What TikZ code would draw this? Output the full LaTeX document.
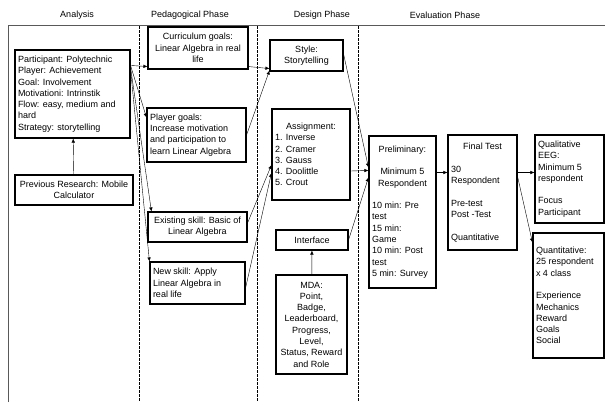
\documentclass[tikz,border=0pt]{standalone}
\usepackage{fontspec}
\setmainfont{Liberation Sans}
\usetikzlibrary{arrows.meta}

\begin{document}
\begin{tikzpicture}[x=1pt,y=-1pt,
    every node/.style={font=\fontsize{9}{11.3}\selectfont},
    box/.style={draw,line width=1.1pt,inner sep=3pt},
    lbox/.style={box,align=flush left},
    cbox/.style={box,align=center},
    >={Latex[length=4pt,width=3.5pt]}]
  \useasboundingbox (0,0) rectangle (605,402);
  % frame and phase separators
  \draw[black!65] (8,402) -- (8,25) -- (605,25);
  \begin{scope}[dash pattern=on 2.5pt off 1.5pt]
    \draw (139,26) -- (139,402);
    \draw (257,26) -- (257,402);
    \draw (358,26) -- (358,402);
  \end{scope}
  % headings
  \draw
    (77,15) node (hana){Analysis}
    (190,15) node (hped){Pedagogical Phase}
    (322,15) node (hdes){Design Phase}
    (445,15) node (heva){Evaluation Phase};
  % analysis
  \draw
    (72.5,94) node[lbox,minimum width=115,minimum height=88,text width=109] (anal){Participant: Polytechnic\\ Player: Achievement\\ Goal: Involvement\\ Motivationi: Intrinstik\\ Flow: easy, medium and\\ hard\\ Strategy: storytelling}
    (74,190) node[cbox,minimum width=118,minimum height=30] (prev){Previous Research: Mobile\\ Calculator};
  % pedagogical phase
  \draw
    (198,48) node[cbox,minimum width=100,minimum height=42] (curr){Curriculum goals:\\ Linear Algebra in real\\ life}
    (196.5,135) node[lbox,minimum width=99,minimum height=54,text width=93] (play){Player goals:\\ Increase motivation\\ and participation to\\ learn Linear Algebra}
    (197.5,227) node[cbox,minimum width=99,minimum height=30] (exist){Existing skill: Basic of\\ Linear Algebra}
    (197.5,283) node[lbox,minimum width=95,minimum height=42,text width=89] (newsk){New skill: Apply\\ Linear Algebra in\\ real life};
  % design phase
  \draw
    (306.5,55.5) node[cbox,minimum width=73,minimum height=31] (style){Style:\\ Storytelling}
    (311,154.5) node[lbox,minimum width=78,minimum height=91,text width=72] (assign){\makebox[72pt]{Assignment:}\\ 1. Inverse\\ 2. Cramer\\ 3. Gauss\\ 4. Doolittle\\ 5. Crout}
    (312,240) node[cbox,minimum width=72,minimum height=20] (inter){Interface}
    (311.5,324.5) node[cbox,minimum width=71,minimum height=99] (mda){MDA:\\ Point,\\ Badge,\\ Leaderboard,\\ Progress,\\ Level,\\ Status, Reward\\ and Role};
  % evaluation phase
  \draw
    (402.5,212) node[lbox,minimum width=67,minimum height=152,text width=61] (prelim){\makebox[61pt]{Preliminary:}\\[11.3pt] \makebox[61pt]{Minimum 5}\\ \makebox[61pt]{Respondent}\\[11.3pt] 10 min: Pre\\ test\\ 15 min:\\ Game\\ 10 min: Post\\ test\\ 5 min: Survey}
    (482.5,192.5) node[lbox,minimum width=69,minimum height=115,text width=63] (final){\makebox[63pt]{Final Test}\\[11.3pt] 30\\ Respondent\\[11.3pt] Pre-test\\ Post -Test\\[11.3pt] Quantitative}
    (569.5,179) node[lbox,minimum width=69,minimum height=88,text width=63] (qual){Qualitative\\ EEG:\\ Minimum 5\\ respondent\\[11.3pt] Focus\\ Participant}
    (568.5,295.5) node[lbox,minimum width=71,minimum height=125,text width=65] (quant){Quantitative:\\ 25 respondent\\ x 4 class\\[11.3pt] Experience\\ Mechanics\\ Reward\\ Goals\\ Social};
  \begin{scope}[->]
    \draw (prev) to (anal);
    \draw ([yshift=-16]anal.north east) to ([yshift=3]curr.south west);
    \draw ([yshift=-16]anal.north east) to ([yshift=-10]play.north west);
    \draw ([yshift=-18]anal.north east) to ([xshift=4]exist.north west);
    \draw ([yshift=-20]anal.north east) to (newsk.north west);
    \draw ([yshift=3]curr.south east) to ([yshift=3]style.south west);
    \draw (play.east) to ([yshift=1]style.south west);
    \draw ([yshift=4]exist.east) to ([yshift=-10.5]assign.west);
    \draw ([yshift=-5]newsk.east) to ([yshift=-18.5]assign.west);
    \draw ([yshift=1.5]style.east) to ([yshift=-32]prelim.north west);
    \draw ([yshift=-16.5]assign.east) to ([yshift=-35]prelim.north west);
    \draw (inter.east) to ([yshift=-42]prelim.north west);
    \draw (mda) to (inter);
    \draw ([yshift=-37]prelim.north east) to ([yshift=-38]final.north west);
    \draw ([yshift=-38]final.north east) to ([yshift=-38]qual.north west);
    \draw ([yshift=-42]final.north east) to ([yshift=-10]quant.north west);
  \end{scope}
\end{tikzpicture}
\end{document}
